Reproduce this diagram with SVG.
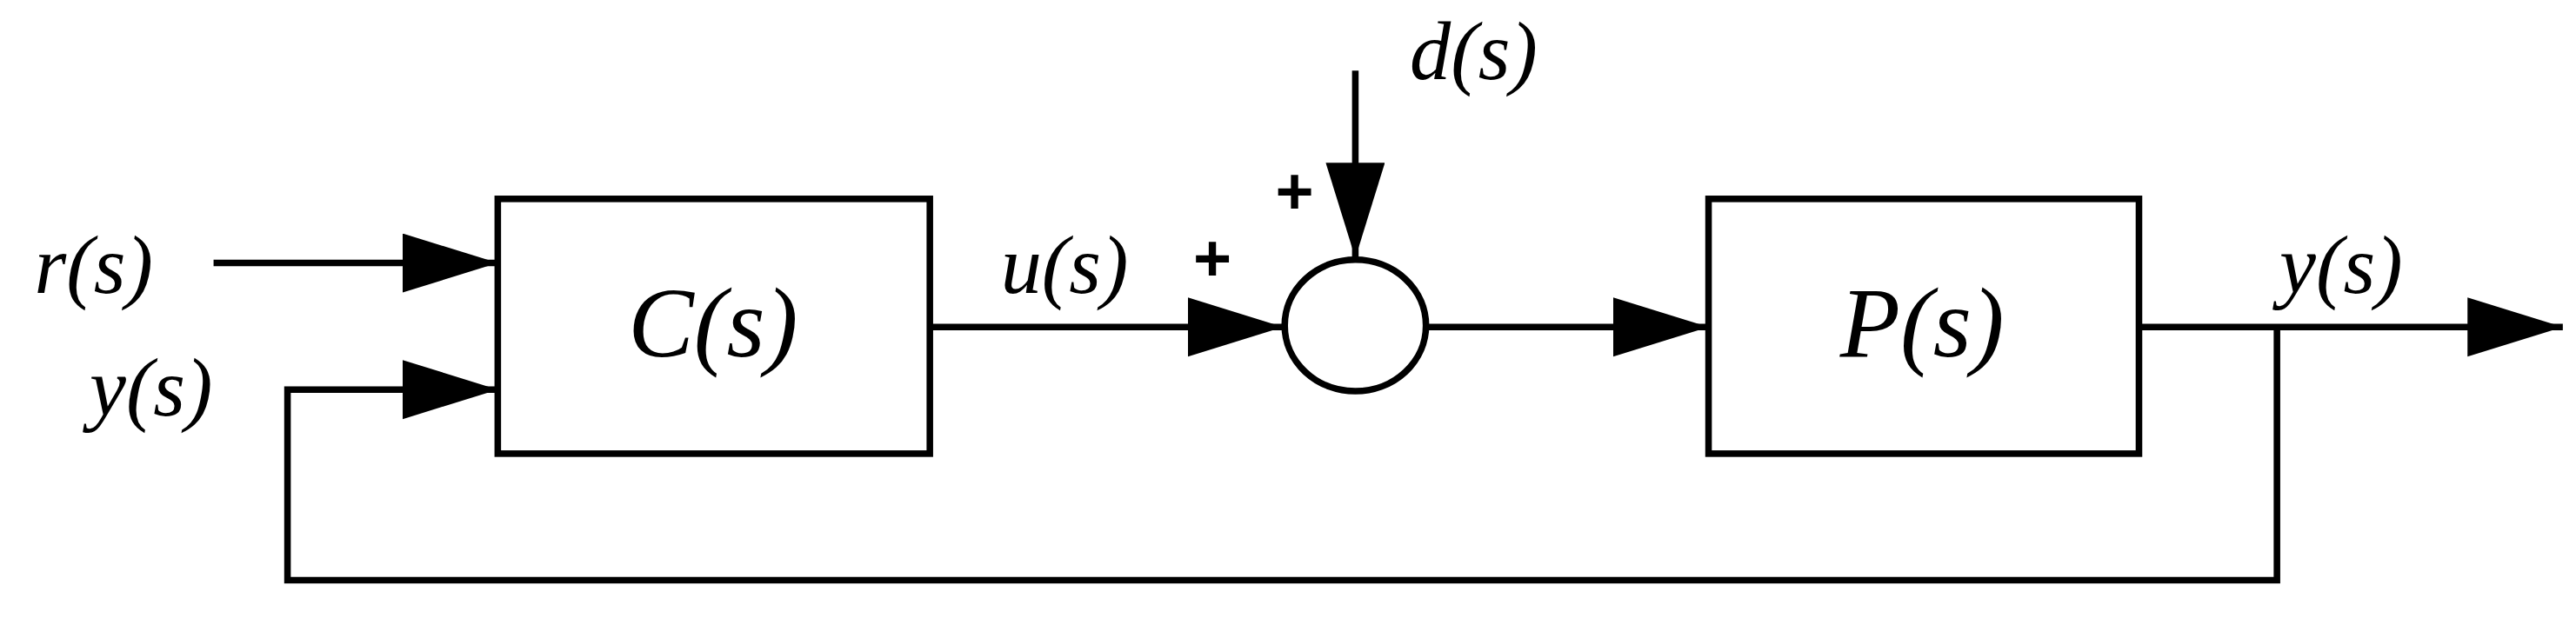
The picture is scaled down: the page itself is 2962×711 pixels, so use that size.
<svg xmlns="http://www.w3.org/2000/svg" width="2962" height="711" viewBox="0 0 2962 711">
<style>
.l{fill:none;stroke:#000;stroke-width:4;stroke-linejoin:miter}
.t{font-family:"Liberation Serif",serif;font-style:italic;fill:#000}
.p{font-family:"Liberation Sans",sans-serif;font-weight:bold;fill:#000;font-size:40px}
</style>
<defs>
<marker id="a" markerUnits="userSpaceOnUse" markerWidth="60" markerHeight="40" refX="58" refY="18" orient="auto"><path d="M0,0 L58,18 L0,36 Z" fill="#000"/></marker>
</defs>
<rect width="2962" height="711" fill="#fff"/>
<g transform="scale(1.889,1.891)">
<g id="connectors">
<path class="l" d="M130,160 H303" marker-end="url(#a)"/>
<path class="l" d="M1386,199 V353 H175 V237 H303" marker-end="url(#a)"/>
<path class="l" d="M566,199 H781" marker-end="url(#a)"/>
<path class="l" d="M869,199 H1040" marker-end="url(#a)"/>
<path class="l" d="M1302,199 H1560" marker-end="url(#a)"/>
<path class="l" d="M825,43 V157" marker-end="url(#a)"/>
</g>
<g id="C"><rect class="l" x="303" y="121" width="263" height="155"/><text class="t" x="434" y="217" font-size="60" text-anchor="middle">C(s)</text></g>
<g id="P"><rect class="l" x="1040" y="121" width="262" height="155"/><text class="t" x="1170" y="217" font-size="60" text-anchor="middle">P(s)</text></g>
<g id="sum"><ellipse class="l" cx="825" cy="198" rx="43" ry="40"/></g>
<g id="labels">
<text class="t" x="57" y="178" font-size="50" text-anchor="middle">r(s)</text>
<text class="t" x="92" y="253" font-size="50" text-anchor="middle">y(s)</text>
<text class="t" x="648" y="178" font-size="50" text-anchor="middle">u(s)</text>
<text class="t" x="897" y="48" font-size="50" text-anchor="middle">d(s)</text>
<text class="t" x="1425" y="178" font-size="50" text-anchor="middle">y(s)</text>
<text class="p" x="738" y="171" text-anchor="middle">+</text>
<text class="p" x="788" y="130" text-anchor="middle">+</text>
</g>
</g>
</svg>
